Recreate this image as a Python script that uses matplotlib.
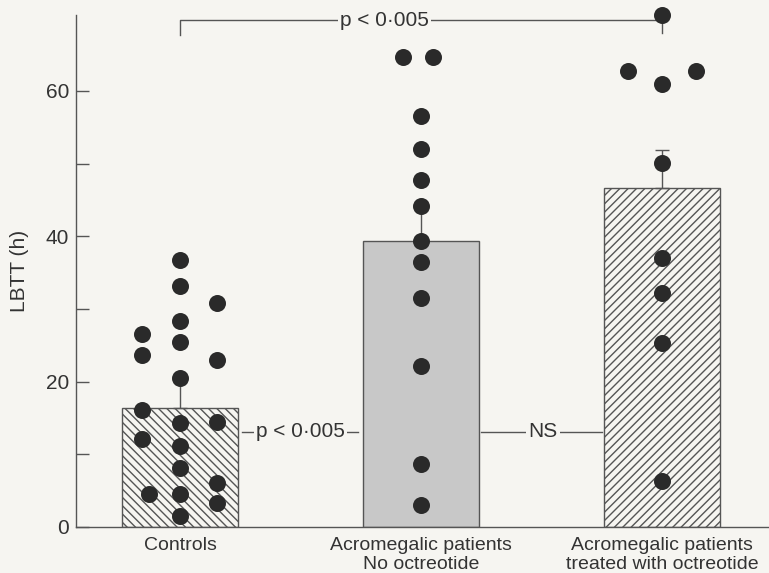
import matplotlib.pyplot as plt

# group labels
groups = ["Controls", "Acromegalic patients\nNo octreotide",
          "Acromegalic patients\ntreated with octreotide"]

# bar means and SEM (LBTT, hours)
means = [16.4, 39.4, 46.6]
sems = [4.0, 4.7, 5.2]

# individual patients
controls = [36.7, 33.2, 28.4, 25.4, 20.5, 14.3, 11.1, 8.1, 4.5, 1.5,
            26.6, 23.6, 16.1, 12.1, 4.6,
            30.8, 23.0, 14.5, 6.1, 3.3]
controls_dx = [0] * 10 + [-0.158] * 4 + [-0.129] + [0.155] * 5

no_octreotide = [64.6, 64.6, 56.5, 52.0, 47.7, 44.1, 39.4, 36.4, 31.5,
                 22.2, 8.6, 3.0]
no_octreotide_dx = [-0.075, 0.049] + [0] * 10

octreotide = [70.4, 62.7, 60.9, 62.7, 50.1, 37.0, 32.2, 25.3, 6.3]
octreotide_dx = [0, -0.14, 0, 0.14, 0, 0, 0, 0, 0]

points = [(controls, controls_dx), (no_octreotide, no_octreotide_dx),
          (octreotide, octreotide_dx)]

bg = "#f6f5f1"
ink = "#2a2a2a"
line = "#555555"
txt = "#333333"

plt.rcParams["font.family"] = ["Liberation Sans", "DejaVu Sans"]
plt.rcParams["hatch.linewidth"] = 1.0

fig = plt.figure(figsize=(7.69, 5.73), dpi=100, facecolor=bg)
ax = fig.add_axes([76 / 769, 46 / 573, 693 / 769, 512.5 / 573])
ax.set_facecolor(bg)

x = [0, 1, 2]
hatches = ["\\\\\\\\", "", "////"]
faces = [bg, "#c8c8c8", bg]
for i in x:
    ax.bar(i, means[i], width=0.48, color=faces[i], edgecolor=line,
           hatch=hatches[i], linewidth=1.0, zorder=2)
    ax.errorbar(i, means[i], yerr=[[0], [sems[i]]], color=line, lw=1.0,
                capsize=5, capthick=1.0, zorder=3)
    vals, dx = points[i]
    ax.scatter([i + d for d in dx], vals, s=150, color=ink, zorder=4,
               clip_on=False, linewidths=0)

# significance markers
ax.plot([0, 0, 2, 2], [67.7, 69.7, 69.7, 68.0], color=line, lw=1.0,
        zorder=1, clip_on=False)
ax.text(0.85, 69.7, "p < 0\u00b7005", ha="center", va="center",
        fontsize=15, color=txt,
        bbox=dict(facecolor=bg, edgecolor="none", pad=1.5), zorder=5)

ax.plot([0.257, 0.74], [13.1, 13.1], color=line, lw=1.0)
ax.text(0.50, 13.1, "p < 0\u00b7005", ha="center", va="center",
        fontsize=15, color=txt,
        bbox=dict(facecolor=bg, edgecolor="none", pad=1.5), zorder=5)
ax.plot([1.25, 1.75], [13.1, 13.1], color=line, lw=1.0)
ax.text(1.506, 13.1, "NS", ha="center", va="center", fontsize=15,
        color=txt,
        bbox=dict(facecolor=bg, edgecolor="none", pad=1.5), zorder=5)

ax.set_xlim(-0.4315, 2.444)
ax.set_ylim(0, 70.5)
ax.set_xticks(x)
ax.set_xticklabels(groups, fontsize=14, color=txt, linespacing=1.15)
ax.tick_params(axis="x", length=0, pad=7)
ax.set_yticks([0, 20, 40, 60])
ax.set_yticks([10, 30, 50], minor=True)
ax.tick_params(axis="y", which="both", direction="in", length=9,
               width=1.0, color=line, labelsize=15, labelcolor=txt,
               pad=5)
ax.set_ylabel("LBTT (h)", fontsize=15, color=txt, labelpad=12)

for s in ["top", "right"]:
    ax.spines[s].set_visible(False)
for s in ["left", "bottom"]:
    ax.spines[s].set_color(line)
    ax.spines[s].set_linewidth(1.0)

fig.savefig("out.png", dpi=100, facecolor=bg)
